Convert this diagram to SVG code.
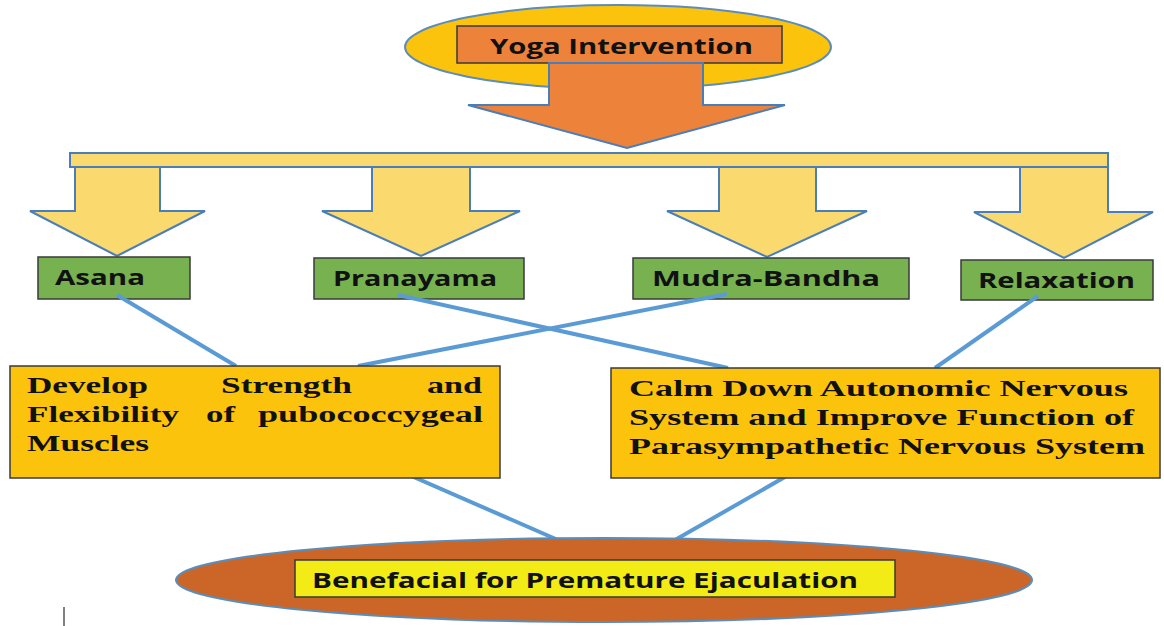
<svg xmlns="http://www.w3.org/2000/svg" width="1164" height="626" viewBox="0 0 1164 626">
<style>
.arr{fill:#FAD96E;stroke:#4A7EBB;stroke-width:2}
.grn{fill:#77B150;stroke:#3A3A3A;stroke-width:1.5}
.gtx{font-family:"Open Sans","Liberation Sans",sans-serif;font-weight:bold;font-size:21px;fill:#111}
.box{fill:#FCC30D;stroke:#3A3A3A;stroke-width:1.5}
.btx{font-family:"Liberation Serif","Times New Roman",serif;font-weight:bold;font-size:24px;fill:#111}
.con{stroke:#5B9BD5;stroke-width:4;fill:none}
</style>
<rect width="1164" height="626" fill="#fff"/>
<g id="yoga">
<ellipse cx="618" cy="47" rx="213" ry="42" fill="#FCC30D" stroke="#5B8DB8" stroke-width="2"/>
<rect x="457" y="26" width="325" height="37" fill="#ED833A" stroke="#3A3A3A" stroke-width="1.5"/>
<text x="490" y="54" class="gtx" textLength="263" lengthAdjust="spacingAndGlyphs">Yoga Intervention</text>
</g>
<g id="main-arrow">
<polygon points="549,63 703,63 703,105 785,105 627,148 468,105 549,105" fill="#ED833A" stroke="#4A7EBB" stroke-width="2"/>
</g>
<g id="bar">
<rect x="70" y="153" width="1038" height="14" class="arr"/>
</g>
<g id="arrows">
<polygon class="arr" points="75,167 160,167 160,211 205,211 117,256 30,211 75,211"/>
<polygon class="arr" points="372,167 470,167 470,211 520,211 421,256 322,211 372,211"/>
<polygon class="arr" points="719,167 816,167 816,211 867,211 767,257 667,211 719,211"/>
<polygon class="arr" points="1020,167 1108,167 1108,212 1153,212 1064,258 974,212 1020,212"/>
</g>
<g id="asana"><rect x="38" y="257" width="152" height="42" class="grn"/><text x="55" y="285" class="gtx" textLength="90" lengthAdjust="spacingAndGlyphs">Asana</text></g>
<g id="pranayama"><rect x="314" y="258" width="210" height="41" class="grn"/><text x="333" y="286" class="gtx" textLength="164" lengthAdjust="spacingAndGlyphs">Pranayama</text></g>
<g id="mudra"><rect x="633" y="258" width="276" height="41" class="grn"/><text x="652" y="286" class="gtx" textLength="228" lengthAdjust="spacingAndGlyphs">Mudra-Bandha</text></g>
<g id="relaxation"><rect x="961" y="260" width="192" height="40" class="grn"/><text x="978" y="288" class="gtx" textLength="157" lengthAdjust="spacingAndGlyphs">Relaxation</text></g>
<g id="connectors">
<line class="con" x1="117" y1="295" x2="236" y2="366"/>
<line class="con" x1="727" y1="294" x2="358" y2="366"/>
<line class="con" x1="398" y1="295" x2="728" y2="368"/>
<line class="con" x1="1038" y1="296" x2="935" y2="368"/>
<line class="con" x1="345" y1="447" x2="558" y2="540"/>
<line class="con" x1="818" y1="458" x2="675" y2="540"/>
</g>
<g id="strength">
<rect x="10" y="366" width="490" height="112" class="box"/>
<text class="btx"><tspan x="27" y="393" textLength="121" lengthAdjust="spacingAndGlyphs">Develop</tspan><tspan x="221" y="393" textLength="131" lengthAdjust="spacingAndGlyphs">Strength</tspan><tspan x="427" y="393" textLength="55" lengthAdjust="spacingAndGlyphs">and</tspan><tspan x="27" y="422" textLength="152" lengthAdjust="spacingAndGlyphs">Flexibility</tspan><tspan x="206" y="422" textLength="29" lengthAdjust="spacingAndGlyphs">of</tspan><tspan x="258" y="422" textLength="225" lengthAdjust="spacingAndGlyphs">pubococcygeal</tspan><tspan x="27" y="451" textLength="122" lengthAdjust="spacingAndGlyphs">Muscles</tspan></text>
</g>
<g id="calm">
<rect x="611" y="368" width="549" height="110" class="box"/>
<text class="btx"><tspan x="629" y="396" textLength="499" lengthAdjust="spacingAndGlyphs">Calm Down Autonomic Nervous</tspan><tspan x="629" y="425" textLength="505" lengthAdjust="spacingAndGlyphs">System and Improve Function of</tspan><tspan x="629" y="454" textLength="516" lengthAdjust="spacingAndGlyphs">Parasympathetic Nervous System</tspan></text>
</g>
<g id="benefit">
<ellipse cx="604" cy="580" rx="428" ry="42" fill="#CC6628" stroke="#5B8DB8" stroke-width="2"/>
<rect x="295" y="560" width="600" height="37" fill="#F2EB15" stroke="#3A3A3A" stroke-width="1.5"/>
<text x="312" y="588" class="gtx" textLength="546" lengthAdjust="spacingAndGlyphs">Benefacial for Premature Ejaculation</text>
</g>
<line x1="64" y1="607" x2="64" y2="626" stroke="#000" stroke-width="1"/>
</svg>
